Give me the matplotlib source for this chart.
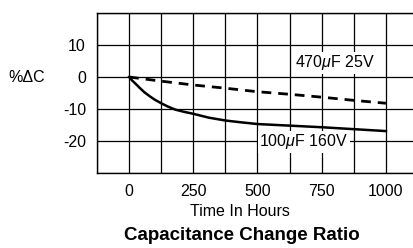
import matplotlib
matplotlib.use("Agg")
import matplotlib.pyplot as plt

plt.rcParams["font.family"] = ["Liberation Sans", "DejaVu Sans"]
plt.rcParams["mathtext.fontset"] = "custom"
plt.rcParams["mathtext.rm"] = "Liberation Sans"
plt.rcParams["mathtext.it"] = "Liberation Sans:italic"

# data
hours = [0, 125, 250, 375, 500, 625, 750, 875, 1000]
cap_470uF_25V = [0, -1.3, -2.5, -3.5, -4.6, -5.4, -6.3, -7.3, -8.2]
cap_100uF_160V_h = [0, 12, 25, 40, 60, 80, 100, 125, 150, 180, 215, 250, 310,
                    375, 440, 500, 625, 750, 875, 1000]
cap_100uF_160V = [0, -1.1, -2.1, -3.3, -4.8, -6.0, -7.1, -8.2, -9.2, -10.2,
                  -10.9, -11.5, -12.7, -13.6, -14.2, -14.7, -15.2, -15.7,
                  -16.3, -16.9]

x_ticks = [0, 250, 500, 750, 1000]
y_ticks = [10, 0, -10, -20]

fig = plt.figure(figsize=(4.14, 2.48), dpi=100)
ax = fig.add_axes([97 / 414, 75 / 248, 321 / 414, 160 / 248])

ax.plot(hours, cap_470uF_25V, color="black", lw=2.0, ls=(0, (3.5, 2.5)),
        dash_capstyle="butt")
ax.plot(cap_100uF_160V_h, cap_100uF_160V, color="black", lw=1.8,
        solid_joinstyle="round")

ax.set_xlim(-125, 1125)
ax.set_ylim(-30, 20)

grid_x = list(range(-125, 1001, 125))
ax.set_xticks(grid_x)
ax.set_xticklabels([str(v) if v in x_ticks else "" for v in grid_x])
grid_y = [20, 10, 0, -10, -20, -30]
ax.set_yticks(grid_y)
ax.set_yticklabels([str(v) if v in y_ticks else "" for v in grid_y])
ax.tick_params(length=0, labelsize=11.5, colors="black")
ax.tick_params(axis="x", pad=8)
ax.tick_params(axis="y", pad=8)
ax.grid(True, color="black", lw=0.9)
ax.set_axisbelow(True)
ax.spines["right"].set_visible(False)
for s in ax.spines.values():
    s.set_linewidth(1.0)

ax.text(801, 4.4, "470$\\mu$F 25V", fontsize=11.5, ha="center", va="center",
        bbox=dict(facecolor="white", edgecolor="none", pad=1))
ax.text(680, -20.3, "100$\\mu$F 160V", fontsize=11.5, ha="center", va="center",
        bbox=dict(facecolor="white", edgecolor="none", pad=1))

fig.text(27 / 414, 1 - 78 / 248, "%ΔC", fontsize=11.5, ha="center", va="center")
fig.text(240 / 414, 1 - 211 / 248, "Time In Hours", fontsize=11.5, ha="center", va="center")
fig.text(242 / 414, 1 - 236 / 248, "Capacitance Change Ratio", fontsize=13.5,
         fontweight="bold", ha="center", va="center")

fig.savefig("out.png", dpi=100)
